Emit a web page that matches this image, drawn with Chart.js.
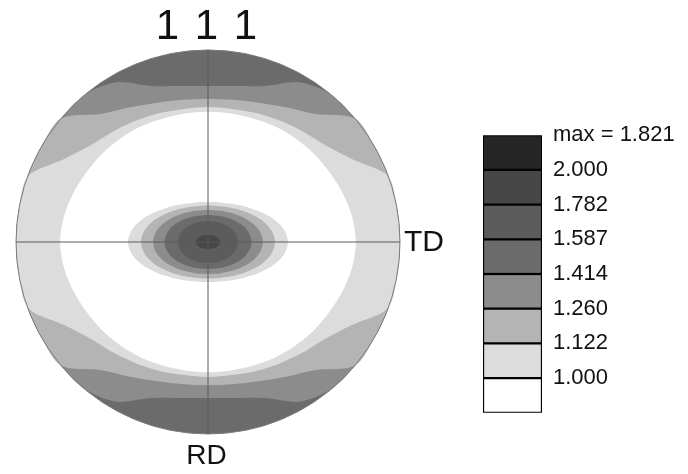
<!DOCTYPE html>
<html>
<head>
<meta charset="utf-8">
<title>111 pole figure</title>
<script src="https://cdn.jsdelivr.net/npm/chart.js@4.4.1/dist/chart.umd.min.js"></script>
<style>
  body { margin: 0; background: #fff; }
  #wrap { position: relative; width: 688px; height: 474px; overflow: hidden; font-family: "Liberation Sans", Arial, sans-serif; color: #111; }
  canvas { position: absolute; }
  .lbl { position: absolute; line-height: 1; white-space: pre; text-align: center; }
</style>
</head>
<body>
<div id="wrap">
  <canvas id="pole_chart" width="420" height="474" style="left:0px;top:0px"></canvas>
  <canvas id="scale_chart" width="215" height="326" style="left:473px;top:111px"></canvas>
  <div class="lbl" style="left:141px;top:4px;width:133px;font-size:42px;letter-spacing:2px">1 1 1</div>
  <div class="lbl" style="left:404px;top:226px;font-size:30px;text-align:left">TD</div>
  <div class="lbl" style="left:176px;top:441px;width:61px;font-size:28px">RD</div>
</div>
<script>
// azimuth of each radar spoke, clockwise from the top of the pole figure
const azimuths = ['0°','10°','20°','30°','40°','50°','60°','70°','80°','90°','100°','110°','120°','130°','140°','150°','160°','170°',
                  '180°','190°','200°','210°','220°','230°','240°','250°','260°','270°','280°','290°','300°','310°','320°','330°','340°','350°'];

// contour radius (1 = edge of the pole figure) at each azimuth
const diskEdge  = [1,1,1,1,1,1,1,1,1,1, 1,1,1,1,1,1,1,1, 1, 1,1,1,1,1,1,1,1,1, 1,1,1,1,1,1,1,1];
const edge1414  = [.812,.825,.865,.96,1,1,1,1,1,1, 1,1,1,1,1,.96,.865,.825, .812, .825,.865,.96,1,1,1,1,1,1, 1,1,1,1,1,.96,.865,.825];
const edge1260  = [.745,.752,.772,.81,.87,1,1,1,1,1, 1,1,1,1,.87,.81,.772,.752, .745, .752,.772,.81,.87,1,1,1,1,1, 1,1,1,1,.87,.81,.772,.752];
const edge1122  = [.703,.704,.716,.733,.757,.79,.865,1,1,1, 1,1,.865,.79,.757,.733,.716,.704, .703, .704,.716,.733,.757,.79,.865,1,1,1, 1,1,.865,.79,.757,.733,.716,.704];
const edge1000  = [.679,.68,.685,.696,.706,.718,.73,.746,.762,.77, .762,.746,.73,.718,.706,.696,.685,.68, .679, .68,.685,.696,.706,.718,.73,.746,.762,.77, .762,.746,.73,.718,.706,.696,.685,.68];
const core1000  = [.208,.211,.218,.231,.251,.278,.315,.359,.399,.417, .399,.359,.315,.278,.251,.231,.218,.211, .208, .211,.218,.231,.251,.278,.315,.359,.399,.417, .399,.359,.315,.278,.251,.231,.218,.211];
const core1122  = [.190,.192,.198,.209,.226,.248,.277,.309,.337,.349, .337,.309,.277,.248,.226,.209,.198,.192, .190, .192,.198,.209,.226,.248,.277,.309,.337,.349, .337,.309,.277,.248,.226,.209,.198,.192];
const core1260  = [.167,.168,.174,.182,.196,.213,.235,.258,.278,.286, .278,.258,.235,.213,.196,.182,.174,.168, .167, .168,.174,.182,.196,.213,.235,.258,.278,.286, .278,.258,.235,.213,.196,.182,.174,.168];
const core1414  = [.141,.142,.146,.153,.163,.176,.192,.208,.221,.227, .221,.208,.192,.176,.163,.153,.146,.142, .141, .142,.146,.153,.163,.176,.192,.208,.221,.227, .221,.208,.192,.176,.163,.153,.146,.142];
const core1587  = [.109,.110,.113,.117,.123,.131,.139,.148,.154,.156, .154,.148,.139,.131,.123,.117,.113,.110, .109, .110,.113,.117,.123,.131,.139,.148,.154,.156, .154,.148,.139,.131,.123,.117,.113,.110];
const core1782  = [.036,.037,.038,.040,.043,.047,.051,.056,.061,.063, .061,.056,.051,.047,.043,.040,.038,.037, .036, .037,.038,.040,.043,.047,.051,.056,.061,.063, .061,.056,.051,.047,.043,.040,.038,.037];

// colour scale, lowest level first
const levelColors = ['#ffffff','#dcdcdc','#b4b4b4','#8c8c8c','#6b6b6b','#5c5c5c','#474747','#262626'];
const levelLabels = ['','1.000','1.122','1.260','1.414','1.587','1.782','2.000','max = 1.821'];

Chart.defaults.font.family = '"Liberation Sans", Arial, sans-serif';
Chart.defaults.color = '#111';

// painted from the bottom up: each layer covers the one before it
const layers = [
	{r: diskEdge, color: levelColors[4]},
	{r: edge1414, color: levelColors[3]},
	{r: edge1260, color: levelColors[2]},
	{r: edge1122, color: levelColors[1]},
	{r: edge1000, color: levelColors[0]},
	{r: core1000, color: levelColors[1]},
	{r: core1122, color: levelColors[2]},
	{r: core1260, color: levelColors[3]},
	{r: core1414, color: levelColors[4]},
	{r: core1587, color: levelColors[5]},
	{r: core1782, color: levelColors[6]}
];

new Chart(document.getElementById('pole_chart'), {
	type: 'radar',
	data: {
		labels: azimuths,
		datasets: layers.map((layer, i) => ({
			data: layer.r,
			backgroundColor: layer.color,
			borderColor: 'rgba(0,0,0,0)',
			borderWidth: 0,
			fill: 'origin',
			tension: 0.3,
			pointRadius: 0,
			pointHitRadius: 0,
			order: layers.length - i
		}))
	},
	options: {
		responsive: false,
		animation: false,
		devicePixelRatio: 1,
		layout: { padding: { left: 16, top: 50, right: 20, bottom: 40 } },
		plugins: { legend: { display: false }, tooltip: { enabled: false } },
		scales: {
			r: {
				min: 0,
				max: 1,
				ticks: { display: false, stepSize: 1 },
				pointLabels: { display: false },
				grid: { circular: true, color: '#7a7a7a', lineWidth: 1, z: 1 },
				angleLines: {
					color: '#5a5a5a',
					lineWidth: (ctx) => (ctx.index % 9 === 0 ? 1 : 0)
				}
			}
		}
	}
});

new Chart(document.getElementById('scale_chart'), {
	type: 'bar',
	data: {
		labels: [''],
		datasets: levelColors.map((c) => ({
			data: [1],
			backgroundColor: c,
			borderColor: '#000',
			borderWidth: 1.5,
			borderSkipped: false,
			barPercentage: 1,
			categoryPercentage: 1
		}))
	},
	options: {
		responsive: false,
		animation: false,
		devicePixelRatio: 1,
		layout: { padding: { left: 10, top: 20, right: 0, bottom: 20 } },
		plugins: { legend: { display: false }, tooltip: { enabled: false } },
		scales: {
			x: { display: false, stacked: true },
			y: {
				stacked: true,
				position: 'right',
				min: 0,
				max: 8,
				grid: { display: false, drawTicks: false },
				border: { display: false },
				ticks: {
					stepSize: 1,
					autoSkip: false,
					padding: 11,
					color: '#111',
					font: { size: 22 },
					callback: (v) => levelLabels[v]
				},
				afterFit: (scale) => { scale.width = 146; }
			}
		}
	}
});
</script>
</body>
</html>
